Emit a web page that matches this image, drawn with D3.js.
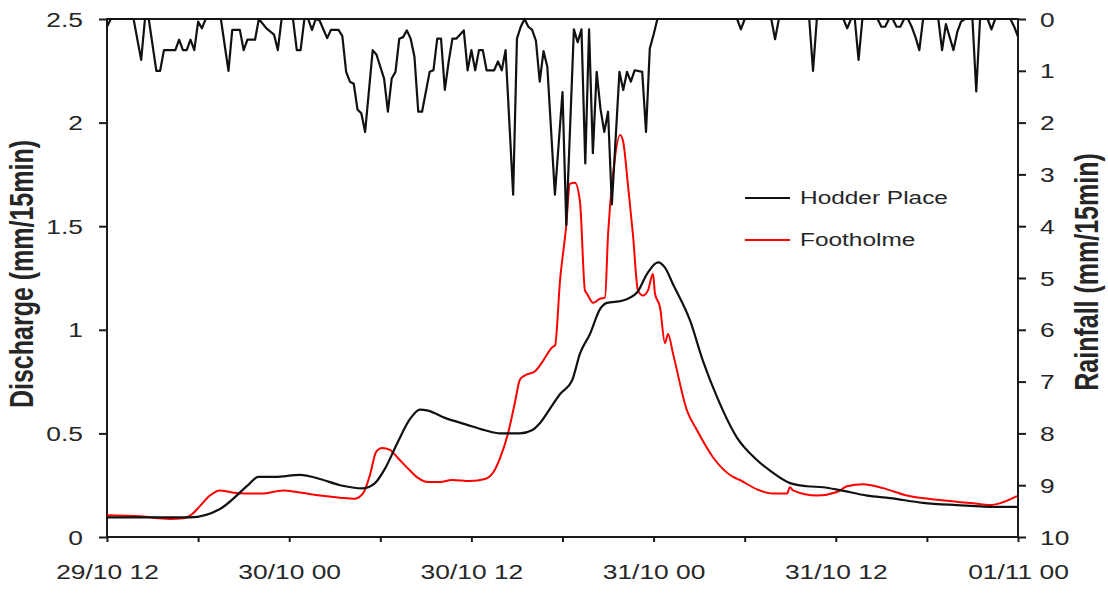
<!DOCTYPE html>
<html>
<head>
<meta charset="utf-8">
<script src="https://cdn.jsdelivr.net/npm/d3@7"></script>
<style>
  html, body { margin: 0; padding: 0; background: #fff; }
  svg { display: block; font-family: "Liberation Sans", Arial, sans-serif; }
</style>
</head>
<body>
<svg id="chart" width="1108" height="612"></svg>
<script>
// ---------- DATA ----------
// time in hours since 29/10 12:00
const xTickLabels = ["29/10 12", "30/10 00", "30/10 12", "31/10 00", "31/10 12", "01/11 00"];
const xTickHours = [0, 12, 24, 36, 48, 60];
const xMinorHours = [6, 18, 30, 42, 54];
const qTicks = [0, 0.5, 1, 1.5, 2, 2.5];
const rainTicks = [0, 1, 2, 3, 4, 5, 6, 7, 8, 9, 10];
const seriesNames = ["Hodder Place", "Footholme"];

const hodderHour = [0, 5.47, 7.44, 9.29, 9.95, 11.07, 12.71, 14.03, 15.35, 16.86, 17.65, 18.31, 19.10, 19.96, 20.61, 21.14, 22.26, 23.58, 24.90, 25.88, 27.20, 27.99, 28.52, 29.18, 29.84, 30.63, 31.15, 31.81, 32.47, 32.93, 33.92, 34.91, 35.57, 36.29, 36.75, 37.28, 38.40, 39.25, 40.18, 41.49, 42.68, 43.67, 44.98, 46.10, 47.16, 48.28, 50.06, 51.57, 53.74, 55.98, 58.62, 60];
const hodderQ    = [0.095, 0.095, 0.135, 0.25, 0.29, 0.29, 0.30, 0.28, 0.25, 0.235, 0.26, 0.33, 0.45, 0.57, 0.615, 0.61, 0.575, 0.545, 0.515, 0.50, 0.50, 0.515, 0.55, 0.62, 0.69, 0.755, 0.885, 0.98, 1.10, 1.13, 1.14, 1.18, 1.27, 1.325, 1.30, 1.22, 1.045, 0.85, 0.675, 0.48, 0.38, 0.32, 0.26, 0.245, 0.24, 0.226, 0.20, 0.188, 0.165, 0.154, 0.145, 0.145];

const footHour = [0, 2.17, 4.15, 5.01, 5.60, 6.13, 6.78, 7.44, 8.23, 9.09, 10.21, 11.59, 12.71, 14.03, 15.35, 16.33, 16.86, 17.32, 17.72, 18.11, 18.64, 19.17, 19.83, 20.48, 21.14, 21.93, 22.72, 23.91, 24.90, 25.42, 25.88, 26.41, 26.87, 27.20, 27.53, 28.19, 28.72, 29.31, 29.51, 29.84, 30.23, 30.49, 30.82, 31.15, 31.48, 31.61, 32.01, 32.47, 32.80, 33.00, 33.33, 33.79, 33.99, 34.31, 34.64, 34.97, 35.30, 35.63, 35.96, 36.09, 36.42, 36.75, 36.95, 37.28, 38.20, 38.86, 39.91, 41.23, 41.69, 42.81, 43.86, 44.79, 44.98, 45.18, 46.76, 48.08, 48.74, 49.79, 51.11, 52.69, 54.86, 57.04, 58.16, 58.82, 59.93];
const footQ    = [0.105, 0.10, 0.087, 0.09, 0.11, 0.15, 0.20, 0.225, 0.215, 0.21, 0.21, 0.225, 0.215, 0.20, 0.19, 0.185, 0.21, 0.30, 0.41, 0.43, 0.42, 0.38, 0.33, 0.285, 0.265, 0.265, 0.275, 0.27, 0.28, 0.31, 0.38, 0.50, 0.65, 0.76, 0.78, 0.80, 0.85, 0.915, 0.925, 1.24, 1.49, 1.705, 1.71, 1.62, 1.19, 1.175, 1.13, 1.15, 1.155, 1.46, 1.75, 1.94, 1.91, 1.70, 1.46, 1.19, 1.165, 1.19, 1.27, 1.175, 1.11, 0.935, 0.98, 0.885, 0.61, 0.515, 0.385, 0.29, 0.275, 0.23, 0.21, 0.21, 0.24, 0.225, 0.20, 0.217, 0.245, 0.255, 0.236, 0.20, 0.178, 0.163, 0.154, 0.163, 0.197];

// rainfall: 15-minute step index (0 = 29/10 12:00) and mm per 15 min
const rainStep = [0, 1, 7, 9, 10, 11, 13, 14, 15, 18, 19, 20, 21, 22, 23, 24, 25, 26, 30, 32, 33, 35, 36, 37, 39, 40, 42, 44, 45, 46, 49, 50, 51, 52, 53, 54, 55, 56, 58, 59, 61, 62, 63, 64, 65, 66, 67, 68, 70, 71, 73, 74, 75, 76, 77, 78, 79, 80, 81, 82, 83, 85, 86, 87, 88, 89, 90, 91, 92, 94, 95, 96, 97, 98, 99, 100, 102, 103, 104, 105, 107, 108, 109, 110, 111, 112, 113, 114, 115, 116, 118, 120, 121, 123, 124, 125, 126, 127, 128, 129, 130, 131, 132, 133, 134, 135, 136, 137, 138, 139, 141, 142, 143, 144, 145, 166, 167, 168, 175, 176, 177, 185, 186, 187, 194, 195, 196, 197, 198, 199, 203, 204, 205, 206, 207, 208, 209, 210, 211, 212, 213, 214, 215, 219, 220, 221, 223, 224, 225, 226, 228, 229, 230, 232, 233, 234, 238, 239, 240];
const rainMm   = [0.15, 0, 0, 0.79, 0, 0, 1.0, 1.0, 0.6, 0.6, 0.4, 0.6, 0.6, 0.4, 0.6, 0.05, 0.18, 0, 0, 1.0, 0.21, 0.21, 0.6, 0.4, 0.4, 0, 0.18, 0.3, 0.6, 0, 0, 0.6, 0.6, 0, 0, 0.21, 0, 0.03, 0.37, 0.21, 0.21, 0.33, 1.02, 1.21, 1.25, 1.75, 1.82, 2.18, 0.6, 0.69, 1.15, 1.79, 1.15, 1.02, 0.38, 0.35, 0.22, 0.38, 0.73, 1.79, 1.79, 1.02, 0.99, 0.38, 0.38, 1.37, 0.83, 0.38, 0.38, 0.22, 0.99, 0.6, 0.99, 0.6, 0.6, 0.99, 0.99, 0.82, 0.99, 0.6, 3.39, 0.38, 0.15, 0, 0.15, 0.21, 0.42, 1.21, 0.62, 0.92, 3.39, 1.41, 3.98, 0.2, 0.45, 0.2, 2.79, 0.2, 2.59, 1.02, 1.73, 2.18, 1.79, 3.58, 2.31, 1.02, 1.37, 1.02, 1.21, 0.99, 1.02, 2.18, 0.57, 0.3, 0, 0, 0.2, 0, 0, 0.39, 0, 0, 1.0, 0, 0, 0.18, 0, 0, 0.79, 0, 0, 0.15, 0.15, 0, 0, 0.15, 0.15, 0, 0, 0.15, 0.35, 0.6, 0, 0, 0.6, 0.1, 0.6, 0.25, 0.05, 0, 0, 1.4, 0, 0, 0.2, 0, 0, 0.15, 0.34];

// ---------- LAYOUT ----------
const SX = 1.32; // horizontal stretch of the lettering in the reference
const L = 107, R = 1018, T = 19, B = 537;
const svg = d3.select("#chart");

const x = d3.scaleLinear().domain([0, 60]).range([L, R]);
const yQ = d3.scaleLinear().domain([0, 2.5]).range([B, T]);
const yR = d3.scaleLinear().domain([0, 10]).range([T, B]);

const axisColor = "#1a1a1a";
const textColor = "#262626";

// Plot frame
svg.append("rect")
  .attr("x", L).attr("y", T).attr("width", R - L).attr("height", B - T)
  .attr("fill", "none").attr("stroke", axisColor).attr("stroke-width", 2);

// Bottom axis
const gx = svg.append("g").attr("transform", `translate(0,${B})`)
  .call(d3.axisBottom(x)
    .tickValues(xTickHours.concat(xMinorHours).sort((a, b) => a - b))
    .tickSize(5).tickSizeOuter(0)
    .tickFormat(d => xTickHours.includes(d) ? xTickLabels[xTickHours.indexOf(d)] : ""));
gx.select(".domain").remove();
gx.selectAll(".tick line").attr("stroke", axisColor).attr("stroke-width", 2);
gx.selectAll(".tick text")
  .attr("y", 28).attr("dy", "0.71em")
  .attr("font-size", 20).attr("fill", textColor)
  .attr("transform", `scale(${SX},1)`);

// Left axis
const gl = svg.append("g").attr("transform", `translate(${L},0)`)
  .call(d3.axisLeft(yQ).tickValues(qTicks).tickSize(8).tickSizeOuter(0).tickFormat(d => String(d)));
gl.select(".domain").remove();
gl.selectAll(".tick line").attr("stroke", axisColor).attr("stroke-width", 2);
gl.selectAll(".tick text")
  .attr("x", -24 / SX).attr("dy", "0.35em")
  .attr("font-size", 20).attr("fill", textColor)
  .attr("transform", `scale(${SX},1)`);

// Right axis
const gr = svg.append("g").attr("transform", `translate(${R},0)`)
  .call(d3.axisRight(yR).tickValues(rainTicks).tickSize(8).tickSizeOuter(0).tickFormat(d => String(d)));
gr.select(".domain").remove();
gr.selectAll(".tick line").attr("stroke", axisColor).attr("stroke-width", 2);
gr.selectAll(".tick text")
  .attr("x", 22 / SX).attr("dy", "0.35em")
  .attr("font-size", 20).attr("fill", textColor)
  .attr("transform", `scale(${SX},1)`);

// Axis titles
svg.append("text")
  .attr("transform", `translate(33,274) scale(${SX},1) rotate(-90)`)
  .attr("text-anchor", "middle").attr("font-size", 25).attr("font-weight", "bold")
  .attr("fill", textColor).text("Discharge (mm/15min)");
svg.append("text")
  .attr("transform", `translate(1098,272) scale(${SX},1) rotate(-90)`)
  .attr("text-anchor", "middle").attr("font-size", 25).attr("font-weight", "bold")
  .attr("fill", textColor).text("Rainfall (mm/15min)");

// Series
svg.append("clipPath").attr("id", "plotclip")
  .append("rect").attr("x", L).attr("y", T - 2).attr("width", R - L + 1).attr("height", B - T + 4);

const rainData = rainStep.map((s, i) => ({ h: s / 4, v: rainMm[i] }));
const hodder = hodderHour.map((h, i) => ({ h, v: hodderQ[i] }));
const foot = footHour.map((h, i) => ({ h, v: footQ[i] }));

const rainLine = d3.line().x(d => x(d.h)).y(d => yR(d.v));
const qLine = d3.line().x(d => x(d.h)).y(d => yQ(d.v)).curve(d3.curveMonotoneX);

const plot = svg.append("g").attr("clip-path", "url(#plotclip)");
plot.append("path").datum(foot)
  .attr("d", qLine).attr("fill", "none").attr("stroke", "#ff0000").attr("stroke-width", 2)
  .attr("stroke-linejoin", "round");
plot.append("path").datum(hodder)
  .attr("d", qLine).attr("fill", "none").attr("stroke", "#111").attr("stroke-width", 2.2)
  .attr("stroke-linejoin", "round");
plot.append("path").datum(rainData)
  .attr("d", rainLine).attr("fill", "none").attr("stroke", "#111").attr("stroke-width", 2.2)
  .attr("stroke-linejoin", "round");

// Legend
const legendColors = ["#111", "#ff0000"];
const lg = svg.append("g");
seriesNames.forEach((name, i) => {
  const yy = 198 + i * 42;
  lg.append("line").attr("x1", 745).attr("x2", 790).attr("y1", yy).attr("y2", yy)
    .attr("stroke", legendColors[i]).attr("stroke-width", 2.2);
  lg.append("text")
    .attr("transform", `translate(800,${yy}) scale(${SX},1)`)
    .attr("dy", "0.35em").attr("font-size", 18.5).attr("fill", textColor)
    .text(name);
});
</script>
</body>
</html>
